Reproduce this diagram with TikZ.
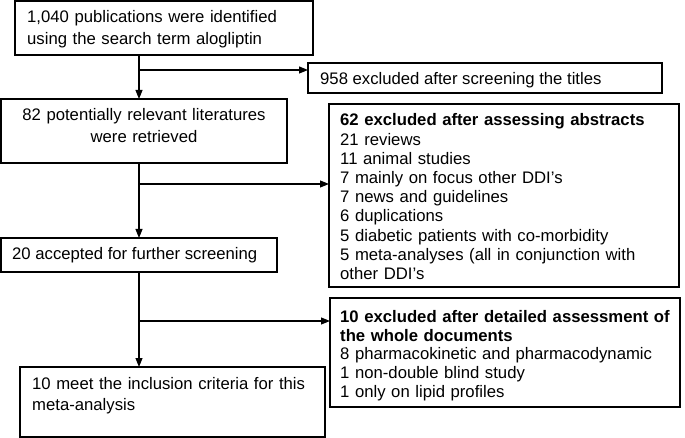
\documentclass[tikz,border=0pt]{standalone}
\usepackage{fontspec}
\setmainfont{Liberation Sans}
\usetikzlibrary{arrows.meta}
\begin{document}
\begin{tikzpicture}[x=1pt,y=-1pt,
  box/.style={draw=black,line width=1.1pt,rectangle,inner sep=0pt,outer sep=0pt,anchor=north west},
  txt/.style={inner sep=0pt,anchor=base west,align=left,font=\fontsize{16.7}{22}\selectfont},
  flow/.style={line width=1.1pt,-{Triangle[length=9pt,width=7pt]}},
  plain/.style={line width=1.1pt}]
\useasboundingbox (0,0) rectangle (685,438);
% boxes
\node[box,minimum width=298pt,minimum height=54pt] (b1) at (15,1) {};
\node[box,minimum width=354pt,minimum height=30pt] (ex1) at (308,63) {};
\node[box,minimum width=286pt,minimum height=64pt] (b2) at (1,99) {};
\node[box,minimum width=350pt,minimum height=183pt] (ex2) at (329,104) {};
\node[box,minimum width=276pt,minimum height=34pt] (b3) at (1,238) {};
\node[box,minimum width=350pt,minimum height=109pt] (ex3) at (330,298) {};
\node[box,minimum width=305pt,minimum height=70pt] (b4) at (20,367) {};
% texts
\node[txt,text width=285pt] (t1) at (27,22.7) {1,040 publications were identified\\using the search term alogliptin};
\node[txt] (t2) at (320,85) {958 excluded after screening the titles};
\node[txt,anchor=base,align=center,text width=284pt] (t3) at (144,120.5) {82 potentially relevant literatures\\were retrieved};
\node[txt,text width=345pt,font=\fontsize{16.7}{19.2}\selectfont] (t4) at (340,126) {\textbf{62 excluded after assessing abstracts}\\21 reviews\\11 animal studies\\7 mainly on focus other DDI’s\\7 news and guidelines\\6 duplications\\5 diabetic patients with co-morbidity\\5 meta-analyses (all in conjunction with\\other DDI’s};
\node[txt] (t5) at (12,260) {20 accepted for further screening};
\node[txt,text width=345pt,font=\fontsize{16.7}{18.6}\selectfont] (t6) at (340,322.7) {\textbf{10 excluded after detailed assessment of}\\\textbf{the whole documents}\\8 pharmacokinetic and pharmacodynamic\\1 non-double blind study\\1 only on lipid profiles};
\node[txt,text width=290pt,font=\fontsize{16.7}{21.5}\selectfont] (t7) at (32,389.3) {10 meet the inclusion criteria for this\\meta-analysis};
% spine and junctions
\coordinate (sp) at (139,0);
\coordinate (j1) at (139,70);
\coordinate (j2) at (139,184);
\coordinate (j3) at (139,321);
% connectors
\draw[flow] (b1.south -| sp) -- (b2.north -| sp);
\draw[flow] (j1) -- (ex1.west |- j1);
\draw[flow] (b2.south -| sp) -- (b3.north -| sp);
\draw[flow] (j2) -- (ex2.west |- j2);
\draw[flow] (b3.south -| sp) -- (b4.north -| sp);
\draw[flow] (j3) -- (ex3.west |- j3);
\end{tikzpicture}
\end{document}
